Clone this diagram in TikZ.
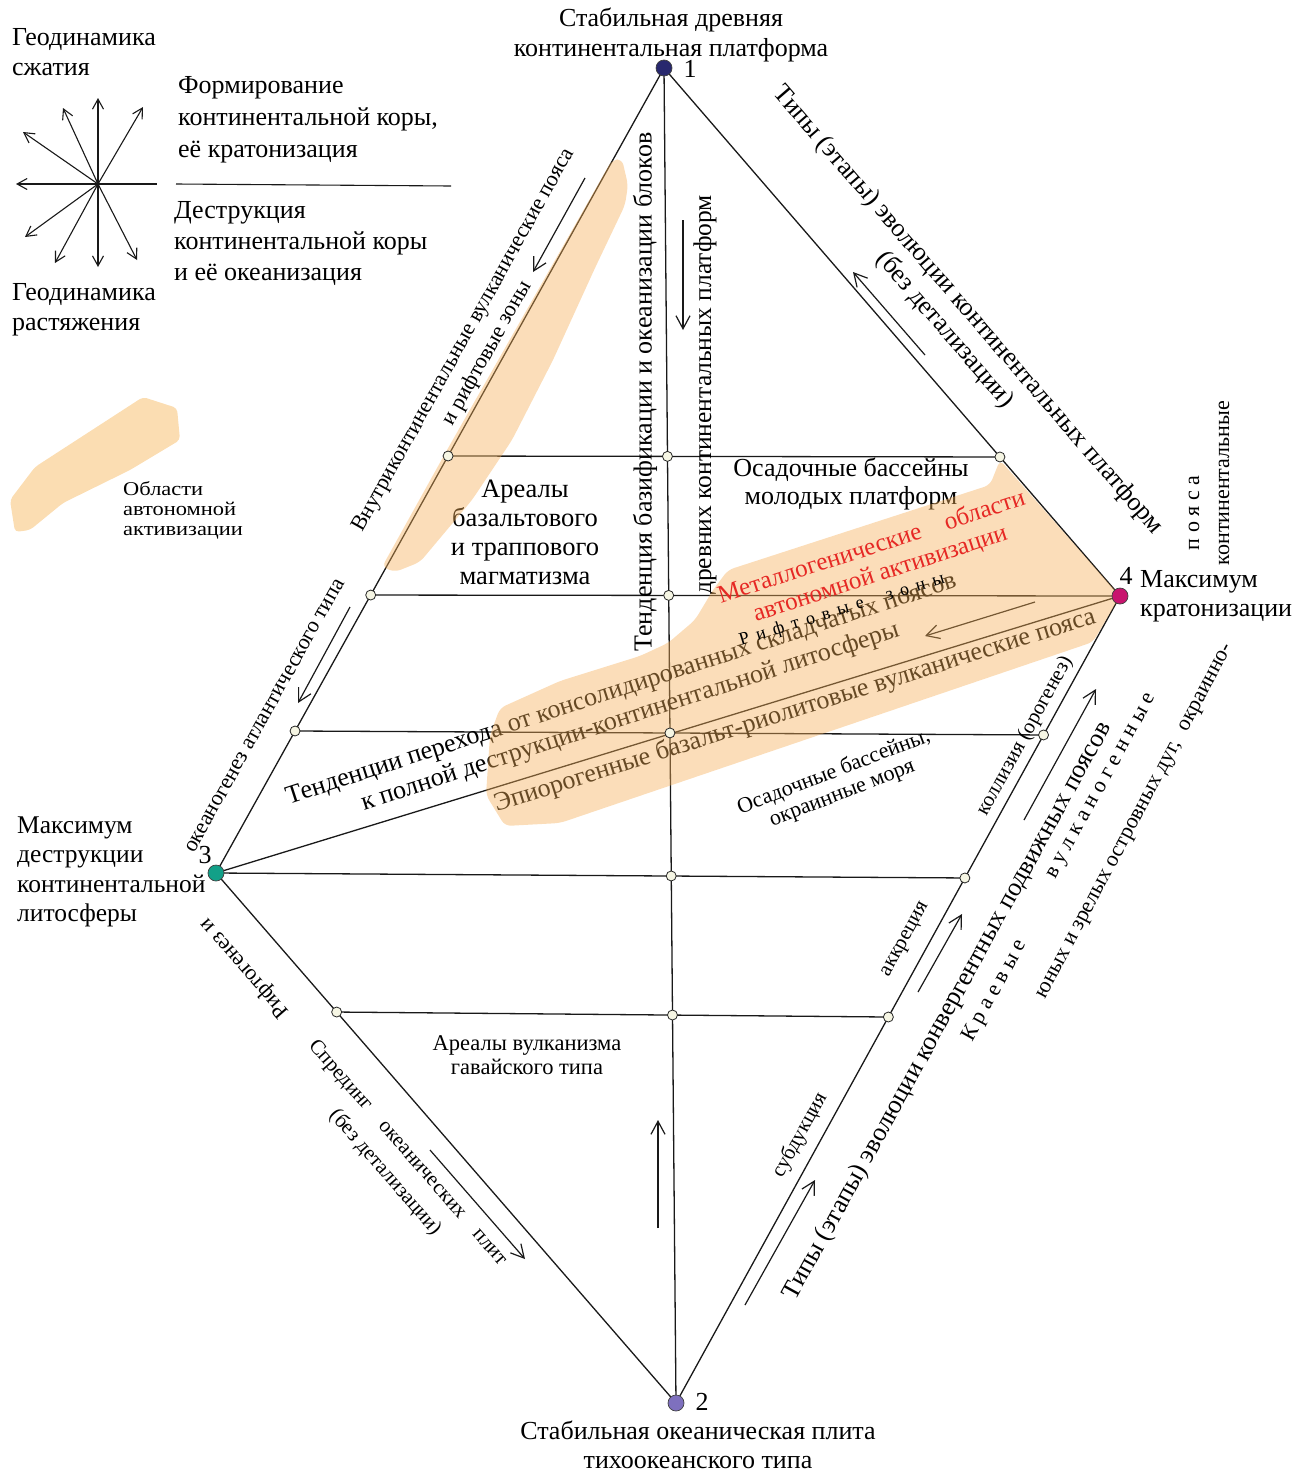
\documentclass[tikz,border=0pt]{standalone}
\usepackage{fontspec}
\setmainfont{Liberation Serif}
\usetikzlibrary{arrows.meta,calc}
\definecolor{peach}{RGB}{251,221,178}
\definecolor{tint}{RGB}{245,175,88}
\definecolor{cream}{RGB}{246,246,228}
\definecolor{redtxt}{RGB}{230,40,36}
\definecolor{dotA}{RGB}{40,40,110}
\definecolor{dotB}{RGB}{126,112,190}
\definecolor{dotC}{RGB}{18,160,136}
\definecolor{dotD}{RGB}{200,20,110}
\newcommand{\fsz}[2]{\fontsize{#1}{#2}\selectfont}
\newcommand{\ls}{\hspace{0.42em}}
\newcommand{\bigpoly}{(1000,460) -- (1120,596) -- (1093,642) -- (560,823) -- (505,826) -- (486,795) -- (490,735) -- (500,708) -- (560,681) -- (640,656) -- (668,643) -- (695,620) -- (713,590) -- (728,570) -- (990,485) -- cycle}
\newcommand{\strippoly}{(612,160) -- (622,159) -- (628,185) -- (625,205) -- (595,268) -- (553,360) -- (512,440) -- (472,500) -- (420,562) -- (395,572) -- (382,567) -- (447,450) -- cycle}
\begin{document}
\begin{tikzpicture}[x=1pt,y=-1pt,
 edge/.style={line width=1.3pt, draw=black!90},
 arr/.style={line width=1.2pt, draw=black!90, -{Straight Barb[length=13pt,width=14pt,line width=1.2pt]}},
 sarr/.style={line width=1.1pt, draw=black!90, -{Straight Barb[length=10pt,width=11pt,line width=1.1pt]}},
 jn/.style={circle, draw=black!85, fill=cream, line width=0.8pt, minimum size=10pt, inner sep=0pt},
 bigdot/.style={circle, draw=black!75, line width=0.7pt, minimum size=16pt, inner sep=0pt},
 txt/.style={inner sep=0pt, align=center},
 fbig/.style={txt, font=\fsz{26}{30}},
 fmid/.style={txt, font=\fsz{22}{27}},
 fsml/.style={txt, font=\fsz{22}{25}},
 lft/.style={align=left, anchor=west}
]
\useasboundingbox (0,0) rectangle (1307,1473);

% ---------- main points ----------
\coordinate (P1) at (664,68);
\coordinate (P2) at (676,1403);
\coordinate (P3) at (216,873);
\coordinate (P4) at (1120,596);
\coordinate (L1) at ($(P1)!0.4820!(P3)$);
\coordinate (L2) at ($(P1)!0.6547!(P3)$);
\coordinate (L3) at ($(P1)!0.8236!(P3)$);
\coordinate (R1) at ($(P1)!0.7367!(P4)$);
\coordinate (R3) at ($(P2)!0.8278!(P4)$);
\coordinate (R4) at ($(P2)!0.6506!(P4)$);
\coordinate (R5) at ($(P2)!0.4783!(P4)$);
\coordinate (L5) at ($(P3)!0.2623!(P2)$);
\coordinate (M1) at (intersection of L1--R1 and P1--P2);
\coordinate (M2) at (intersection of L2--P4 and P1--P2);
\coordinate (M3) at (intersection of L3--R3 and P1--P2);
\coordinate (M4) at (intersection of P3--R4 and P1--P2);
\coordinate (M5) at (intersection of L5--R5 and P1--P2);

% ---------- legend orange ----------
\fill[peach, rounded corners=4pt] (10,500) -- (35,467) -- (143,397) -- (177,408) -- (180,440) -- (130,470) -- (63,503) -- (30,530) -- (15,532) -- cycle;

% ---------- frame lines ----------
\draw[edge] (P1) -- (P3) -- (P2) -- (P4) -- cycle;
\draw[edge] (P1) -- (P2);
\draw[edge] (P3) -- (P4);
\draw[edge] (L1) -- (R1);
\draw[edge] (L2) -- (P4);
\draw[edge] (L3) -- (R3);
\draw[edge] (P3) -- (R4);
\draw[edge] (L5) -- (R5);

% ---------- legend ----------
\coordinate (S0) at (98,184);
\coordinate (S1) at (63,108);
\coordinate (S2) at (98,98);
\coordinate (S3) at (143,107);
\coordinate (S4) at (23,132);
\coordinate (S5) at (16,184);
\coordinate (S6) at (25,237);
\coordinate (S7) at (55,263);
\coordinate (S8) at (98,267);
\coordinate (S9) at (137,260);
\coordinate (S10) at (157,184);
\foreach \k in {1,...,9} {\draw[sarr] (S0) -- (S\k);}
\draw[line width=1.1pt, black!90] (S0) -- (S10);
\coordinate (LG1) at (176,184);
\coordinate (LG2) at (451,186);
\draw[line width=1.1pt, black!90] (LG1) -- (LG2);

\node[fbig, lft] (lgA) at (12,52) {Геодинамика\\сжатия};
\node[fbig, lft, font=\fsz{26}{32}] (lgB) at (178,120) {Формирование\\континентальной коры,\\её кратонизация};
\node[fbig, lft, font=\fsz{26}{31}] (lgC) at (174,243) {Деструкция\\континентальной коры\\и её океанизация};
\node[fbig, lft] (lgD) at (12,310) {Геодинамика\\растяжения};
\node[txt, lft, font=\fsz{19.5}{20}, xscale=1.15] (lgE) at (123,510) {Области\\автономной\\активизации};

% ---------- arrows ----------
\coordinate (a1s) at (585,178); \coordinate (a1e) at (533,272);
\coordinate (a2s) at (350,607); \coordinate (a2e) at (298,703);
\coordinate (a3s) at (683,220); \coordinate (a3e) at (683,330);
\coordinate (a4s) at (925,355); \coordinate (a4e) at (853,272);
\coordinate (a5s) at (1035,602); \coordinate (a5e) at (925,636);
\coordinate (a6s) at (430,1150); \coordinate (a6e) at (525,1259);
\coordinate (a7s) at (658,1228); \coordinate (a7e) at (658,1120);
\coordinate (a8s) at (745,1305); \coordinate (a8e) at (815,1180);
\coordinate (a9s) at (918,992); \coordinate (a9e) at (962,914);
\coordinate (a10s) at (1024,820); \coordinate (a10e) at (1096,689);
\foreach \k in {1,...,10} {\draw[arr] (a\k s) -- (a\k e);}

% ---------- black texts ----------
\node[fbig] (tTop) at (671,35) {Стабильная древняя\\континентальная платформа};
\node[fbig, font=\fsz{26}{29}] (tBot) at (698,1445) {Стабильная океаническая плита\\тихоокеанского типа};
\node[txt, font=\fsz{26.5}{29}] (tBas) at (525,532) {Ареалы\\базальтового\\и траппового\\магматизма};
\node[txt, font=\fsz{26}{28}] (tOsY) at (851,484) {Осадочные бассейны\\молодых платформ};
\node[txt, font=\fsz{22.5}{24}] (tHaw) at (527,1055) {Ареалы вулканизма\\гавайского типа};
\node[txt, font=\fsz{22}{23}, rotate=21] (tOsM) at (838,783) {Осадочные бассейны,\\окраинные моря};
\node[fbig, lft, font=\fsz{25.5}{29.3}] (t3) at (17,872) {Максимум\\деструкции\\континентальной\\литосферы};
\node[fbig, lft, font=\fsz{26}{29}] (t4) at (1140,596.5) {Максимум\\кратонизации};

\node[fmid, rotate=60.9] (tIntra) at (476,347) {Внутриконтинентальные вулканические пояса\\и рифтовые зоны};
\node[fsml, rotate=60.9] (tOce) at (265,716) {океаногенез атлантического типа};
\node[fbig, rotate=90] (tTendA) at (645,392) {Тенденция базификации и океанизации блоков};
\node[txt, font=\fsz{25.5}{30}, rotate=90] (tTendB) at (705,395) {древних континентальных платформ};
\node[fbig, rotate=-49.2] (tTypesA) at (956,320) {Типы (этапы) эволюции континентальных платформ\\(без детализации)};
\node[fsml, rotate=131] (tRift) at (245,968) {Рифтогенез и};
\node[txt, font=\fsz{21}{30}, rotate=-49] (tSpr) at (396,1163) {Спрединг\hspace{0.7em} океанических\hspace{0.7em} плит\\(без детализации)};
\node[txt, font=\fsz{26}{29}, rotate=18] (tTrans) at (626,704) {Тенденции перехода от консолидированных складчатых поясов\\к полной деструкции-континентальной литосферы};
\node[fbig, rotate=17.5] (tEpi) at (795,711) {Эпиорогенные базальт-риолитовые вулканические пояса};
\node[txt, font=\fsz{21}{25}, rotate=61.2] (tColl) at (1025,736) {коллизия (орогенез)};
\node[txt, font=\fsz{21}{25}, rotate=61.2] (tAcc) at (906,940) {аккреция};
\node[txt, font=\fsz{21}{25}, rotate=61.2] (tSub) at (800,1135) {субдукция};
\node[fbig, rotate=61.2] (tTypesB) at (948,1011) {Типы (этапы) эволюции конвергентных подвижных поясов};
\node[fmid, rotate=61.2] (tKr) at (995,991) {К р а е в ы е};
\node[fmid, rotate=61.2] (tVu) at (1103,787) {в у л к а н о г е н н ы е};
\node[fmid, rotate=62] (tYu) at (1136,822) {юных и зрелых островных дуг,\hspace{0.6em}окраинно-};
\node[fsml, rotate=90] (tCont) at (1224,483) {континентальные};
\node[fsml, rotate=90] (tPo) at (1194,513) {п о я с а};

% ---------- orange tint overlay ----------
\fill[tint, fill opacity=0.42, rounded corners=6pt] \bigpoly;
\fill[tint, fill opacity=0.42, rounded corners=6pt] \strippoly;

% ---------- texts on top ----------
\node[txt, font=\fsz{25}{28}, rotate=18, text=redtxt] (tMet) at (876,561) {Металлогенические\hspace{1em}области\\автономной активизации};
\node[txt, font=\fsz{18}{20}, rotate=17] (tRz) at (842,610) {Р\ls и\ls ф\ls т\ls о\ls в\ls ы\ls е\hspace{1.3em}з\ls о\ls н\ls ы};

% ---------- junctions ----------
\foreach \c in {L1,L2,L3,R1,R3,R4,R5,L5,M1,M2,M3,M4,M5} {\node[jn] (j\c) at (\c) {};}

% ---------- vertices ----------
\node[bigdot, fill=dotA] (d1) at (P1) {};
\node[bigdot, fill=dotB] (d2) at (P2) {};
\node[bigdot, fill=dotC] (d3) at (P3) {};
\node[bigdot, fill=dotD] (d4) at (P4) {};
\node[fbig] (n1) at (690,69) {1};
\node[fbig] (n2) at (702,1402) {2};
\node[fbig] (n3) at (205,855) {3};
\node[fbig] (n4) at (1126,576) {4};
\end{tikzpicture}
\end{document}
